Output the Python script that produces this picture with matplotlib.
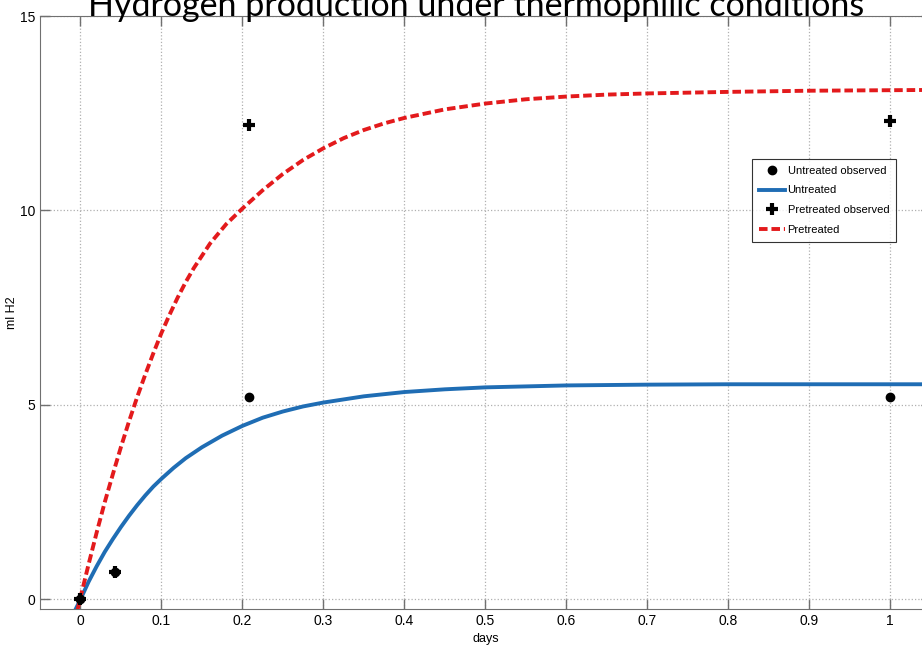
import matplotlib
matplotlib.use('Agg')
import matplotlib.pyplot as plt

# observed points
obs_days = [0, 0.042, 0.208, 1.0]
untreated_obs = [0, 0.7, 5.2, 5.2]
pretreated_obs = [0, 0.7, 12.2, 12.3]

# fitted curves
untreated_days = [-0.007, 0, 0.01, 0.02, 0.03, 0.04, 0.05, 0.06, 0.07, 0.08,
                  0.09, 0.1, 0.115, 0.13, 0.15, 0.175, 0.2, 0.225, 0.25, 0.275,
                  0.3, 0.35, 0.4, 0.45, 0.5, 0.6, 0.7, 0.8, 1.05]
untreated_fit = [-0.3, 0.0, 0.45, 0.85, 1.22, 1.55, 1.86, 2.15, 2.42, 2.67,
                 2.9, 3.1, 3.38, 3.63, 3.91, 4.21, 4.46, 4.67, 4.83, 4.96,
                 5.06, 5.22, 5.33, 5.4, 5.45, 5.5, 5.52, 5.53, 5.53]
pretreated_days = [-0.004, 0, 0.01, 0.02, 0.03, 0.04, 0.05, 0.06, 0.07, 0.08,
                   0.09, 0.1, 0.11, 0.12, 0.13, 0.14, 0.16, 0.18, 0.2, 0.225,
                   0.25, 0.275, 0.3, 0.325, 0.35, 0.375, 0.4, 0.45, 0.5, 0.55,
                   0.6, 0.65, 0.7, 0.8, 0.9, 1.05]
pretreated_fit = [-0.3, 0.05, 0.9, 1.72, 2.5, 3.22, 3.92, 4.58, 5.2, 5.78,
                  6.33, 6.85, 7.32, 7.76, 8.16, 8.52, 9.15, 9.65, 10.05, 10.52,
                  10.94, 11.3, 11.6, 11.86, 12.07, 12.24, 12.38, 12.6, 12.75, 12.86,
                  12.93, 12.98, 13.01, 13.05, 13.08, 13.1]

xticks = [0, 0.1, 0.2, 0.3, 0.4, 0.5, 0.6, 0.7, 0.8, 0.9, 1]
xticklabels = ['0', '0.1', '0.2', '0.3', '0.4', '0.5', '0.6', '0.7', '0.8', '0.9', '1']
yticks = [0, 5, 10, 15]

plt.rcParams['font.family'] = ['Liberation Sans', 'DejaVu Sans']

fig = plt.figure(figsize=(9.22, 6.48), dpi=100)
ax = fig.add_axes([0.0434, 0.0602, 0.966, 0.915])

ax.plot(obs_days, untreated_obs, linestyle='none', marker='o', color='black',
        markersize=6, label='Untreated observed', zorder=5)
ax.plot(untreated_days, untreated_fit, color='#1f6db4', linewidth=2.8,
        label='Untreated', zorder=3)
ax.plot(obs_days, pretreated_obs, linestyle='none', marker='+', color='black',
        markersize=8, markeredgewidth=3, label='Pretreated observed', zorder=6)
ax.plot(pretreated_days, pretreated_fit, color='#e31a1c', linewidth=2.8,
        dashes=(2.2, 1.0), label='Pretreated', zorder=4)

ax.set_xlim(-0.05, 1.05)
ax.set_ylim(-0.25, 15)
ax.set_xticks(xticks)
ax.set_xticklabels(xticklabels)
ax.set_yticks(yticks)
ax.tick_params(direction='in', length=7, width=1, color='#707070',
               labelsize=10, top=True, right=True)
for s in ax.spines.values():
    s.set_color('#707070')
ax.grid(True, linestyle=':', color='#b0b0b0', linewidth=0.9)

ax.set_xlabel('days', fontsize=9, labelpad=4)
ax.set_ylabel('ml H2', fontsize=9)
ax.yaxis.set_label_coords(-22 / 890.5, 0.5)

leg = ax.legend(loc='upper left', bbox_to_anchor=(752 / 922, 1 - 159 / 648),
                bbox_transform=fig.transFigure, fontsize=8, frameon=True,
                fancybox=False, edgecolor='black', handlelength=2.4,
                handletextpad=0.2, borderpad=0.6, labelspacing=0.88,
                borderaxespad=0)
leg.get_frame().set_linewidth(0.8)

fig.text(476 / 922, 1 - 16 / 648, 'Hydrogen production under thermophilic conditions',
         fontsize=24.5, family=['Lato', 'DejaVu Sans'], ha='center', va='baseline')

fig.savefig('out.png', dpi=100)
